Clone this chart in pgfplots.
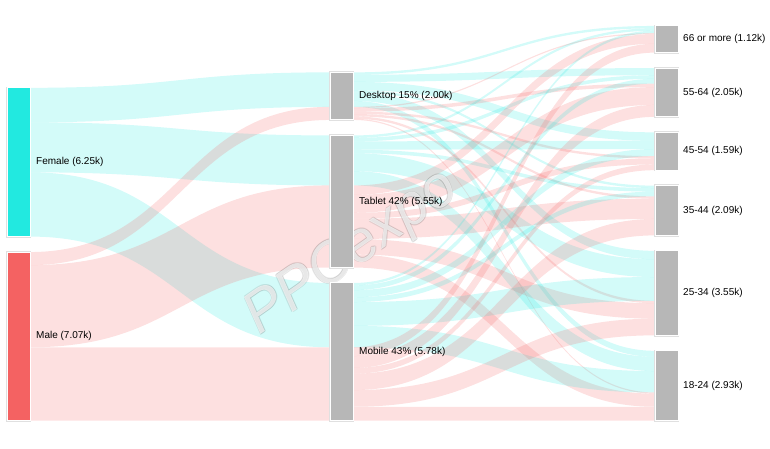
\documentclass[border=0pt]{standalone}
\usepackage{pgfplots}
\pgfplotsset{compat=1.18}
\usepackage{fontspec}
\setmainfont{Liberation Sans}

\definecolor{femc}{HTML}{22E9E0}
\definecolor{malc}{HTML}{F46262}
\definecolor{devc}{HTML}{B7B7B7}

% flows in thousands
% rows: Desktop, Tablet, Mobile; columns: 66+, 55-64, 45-54, 35-44, 25-34, 18-24
\def\femdata{{0.10,0.30,0.35,0.10,0.35,0.25,0.10,0.15,0.35,0.15,0.75,0.60,0.10,0.20,0.30,0.20,1.00,0.90}}
\def\maldata{{0.05,0.15,0.10,0.10,0.10,0.05,0.40,0.75,0.25,0.85,0.65,0.55,0.37,0.50,0.24,0.69,0.70,0.58}}

\def\base{17.67}% bottom of every column
\def\gap{0.65}% gap between nodes

\newcommand\sv[2]{\expandafter\xdef\csname #1\endcsname{#2}}
\newcommand\gv[1]{\csname #1\endcsname}
\newcommand\calc[2]{\edef\calcexpr{#2}\pgfmathsetmacro#1{\calcexpr}}

% totals per gender and device
\foreach \d in {0,1,2}{%
  \gdef\accf{0}\gdef\accm{0}%
  \foreach \a in {0,...,5}{%
    \calc\tmp{\accf+\femdata[6*\d+\a]}\xdef\accf{\tmp}%
    \calc\tmp{\accm+\maldata[6*\d+\a]}\xdef\accm{\tmp}%
  }%
  \sv{GF\d}{\accf}\sv{GM\d}{\accm}%
}
% totals per gender and age
\foreach \a in {0,...,5}{%
  \gdef\accf{0}\gdef\accm{0}%
  \foreach \d in {0,1,2}{%
    \calc\tmp{\accf+\femdata[6*\d+\a]}\xdef\accf{\tmp}%
    \calc\tmp{\accm+\maldata[6*\d+\a]}\xdef\accm{\tmp}%
  }%
  \sv{AF\a}{\accf}\sv{AM\a}{\accm}%
}

% left column
\calc\femh{\gv{GF0}+\gv{GF1}+\gv{GF2}}
\calc\malh{\gv{GM0}+\gv{GM1}+\gv{GM2}}
\calc\femtop{\base-\femh-\malh-\gap}
\calc\fembot{\femtop+\femh}
\calc\femmid{\femtop+\femh/2}
\calc\maltop{\fembot+\gap}
\calc\malbot{\maltop+\malh}
\calc\malmid{\maltop+\malh/2}
\xdef\femtop{\femtop}\xdef\fembot{\fembot}\xdef\femmid{\femmid}
\xdef\maltop{\maltop}\xdef\malbot{\malbot}\xdef\malmid{\malmid}

% middle column
\calc\tmp{\base-\femh-\malh-2*\gap}\sv{DT0}{\tmp}
\foreach \d/\e in {0/1,1/2,2/3}{%
  \calc\tmp{\gv{DT\d}+\gv{GF\d}+\gv{GM\d}}\sv{DB\d}{\tmp}%
  \calc\tmp{\gv{DT\d}+(\gv{GF\d}+\gv{GM\d})/2}\sv{DC\d}{\tmp}%
  \calc\tmp{\gv{DB\d}+\gap}\sv{DT\e}{\tmp}%
}

% right column
\calc\tmp{\base-\femh-\malh-5*\gap}\sv{AT0}{\tmp}
\foreach \a/\b in {0/1,1/2,2/3,3/4,4/5,5/6}{%
  \calc\tmp{\gv{AT\a}+\gv{AF\a}+\gv{AM\a}}\sv{AB\a}{\tmp}%
  \calc\tmp{\gv{AT\a}+(\gv{AF\a}+\gv{AM\a})/2}\sv{AC\a}{\tmp}%
  \calc\tmp{\gv{AB\a}+\gap}\sv{AT\b}{\tmp}%
}

% links
\newcommand\band[8]{%
  \fill[#8,fill opacity=0.2] (axis cs:#1,#4) .. controls (axis cs:#2,#4) and (axis cs:#2,#6) .. (axis cs:#3,#6)
    -- (axis cs:#3,#7) .. controls (axis cs:#2,#7) and (axis cs:#2,#5) .. (axis cs:#1,#5) -- cycle;}
\gdef\bands{}
\newcommand\addband[6]{%
  \calc\bya{#3+#5}\calc\byb{#4+#5}\calc\bxm{(#1+#2)/2}%
  \xdef\bands{\unexpanded\expandafter{\bands}\noexpand\band{#1}{\bxm}{#2}{#3}{\bya}{#4}{\byb}{#6}}%
}

% gender -> device
\xdef\run{\femtop}
\foreach \d in {0,1,2}{%
  \addband{30}{330}{\run}{\gv{DT\d}}{\gv{GF\d}}{femc}%
  \calc\tmp{\run+\gv{GF\d}}\xdef\run{\tmp}%
}
\xdef\run{\maltop}
\foreach \d in {0,1,2}{%
  \calc\tgt{\gv{DT\d}+\gv{GF\d}}%
  \addband{30}{330}{\run}{\tgt}{\gv{GM\d}}{malc}%
  \calc\tmp{\run+\gv{GM\d}}\xdef\run{\tmp}%
}

% device -> age, split by gender
\foreach \a in {0,...,5}{%
  \sv{RF\a}{\gv{AT\a}}%
  \calc\tmp{\gv{AT\a}+\gv{AF\a}}\sv{RM\a}{\tmp}%
}
\foreach \d in {0,1,2}{%
  \xdef\run{\gv{DT\d}}%
  \foreach \a in {0,...,5}{%
    \calc\val{\femdata[6*\d+\a]}%
    \addband{353}{655}{\run}{\gv{RF\a}}{\val}{femc}%
    \calc\tmp{\run+\val}\xdef\run{\tmp}%
    \calc\tmp{\gv{RF\a}+\val}\sv{RF\a}{\tmp}%
  }%
  \foreach \a in {0,...,5}{%
    \calc\val{\maldata[6*\d+\a]}%
    \addband{353}{655}{\run}{\gv{RM\a}}{\val}{malc}%
    \calc\tmp{\run+\val}\xdef\run{\tmp}%
    \calc\tmp{\gv{RM\a}+\val}\sv{RM\a}{\tmp}%
  }%
}

\tikzset{lbl/.style={anchor=west,font=\fontsize{10}{12}\selectfont,text=black,inner sep=0pt},
  wm/.style={rotate=35,inner sep=0pt,font=\fontsize{58}{58}\selectfont\itshape}}

\begin{document}
\begin{tikzpicture}
\begin{axis}[
  width=770pt, height=448pt, scale only axis,
  xmin=0, xmax=770, ymin=0, ymax=18.8235, y dir=reverse,
  hide axis, clip=false,
]
\addplot[draw=none] coordinates {(0,0) (770,18.8235)};

\bands

% watermark, outlined look
\node[wm,text=black,opacity=0.10] at (axis cs:351.2,10.65) {PPCexpo};
\node[wm,text=black,opacity=0.10] at (axis cs:352.8,10.65) {PPCexpo};
\node[wm,text=black,opacity=0.10] at (axis cs:352,10.62) {PPCexpo};
\node[wm,text=black,opacity=0.10] at (axis cs:352,10.68) {PPCexpo};
\node[wm,text=white,opacity=0.75] at (axis cs:352,10.65) {PPCexpo};

% nodes
\addplot[draw=black!12, line width=2.4pt, fill=femc] coordinates {(7,\femtop) (30,\femtop) (30,\fembot) (7,\fembot)} -- cycle;
\addplot[draw=white, line width=1pt, fill=femc] coordinates {(7,\femtop) (30,\femtop) (30,\fembot) (7,\fembot)} -- cycle;
\addplot[draw=black!12, line width=2.4pt, fill=malc] coordinates {(7,\maltop) (30,\maltop) (30,\malbot) (7,\malbot)} -- cycle;
\addplot[draw=white, line width=1pt, fill=malc] coordinates {(7,\maltop) (30,\maltop) (30,\malbot) (7,\malbot)} -- cycle;
\pgfplotsinvokeforeach{0,1,2}{%
  \addplot[draw=black!12, line width=2.4pt, fill=devc] coordinates {(330,\gv{DT#1}) (353,\gv{DT#1}) (353,\gv{DB#1}) (330,\gv{DB#1})} -- cycle;
  \addplot[draw=white, line width=1pt, fill=devc] coordinates {(330,\gv{DT#1}) (353,\gv{DT#1}) (353,\gv{DB#1}) (330,\gv{DB#1})} -- cycle;
}
\pgfplotsinvokeforeach{0,...,5}{%
  \addplot[draw=black!12, line width=2.4pt, fill=devc] coordinates {(655,\gv{AT#1}) (678,\gv{AT#1}) (678,\gv{AB#1}) (655,\gv{AB#1})} -- cycle;
  \addplot[draw=white, line width=1pt, fill=devc] coordinates {(655,\gv{AT#1}) (678,\gv{AT#1}) (678,\gv{AB#1}) (655,\gv{AB#1})} -- cycle;
}

% labels
\node[lbl] at (axis cs:36,\femmid) {Female (6.25k)};
\node[lbl] at (axis cs:36,\malmid) {Male (7.07k)};
\node[lbl] at (axis cs:359,\gv{DC0}) {Desktop 15\% (2.00k)};
\node[lbl] at (axis cs:359,\gv{DC1}) {Tablet 42\% (5.55k)};
\node[lbl] at (axis cs:359,\gv{DC2}) {Mobile 43\% (5.78k)};
\node[lbl] at (axis cs:683,\gv{AC0}) {66 or more (1.12k)};
\node[lbl] at (axis cs:683,\gv{AC1}) {55-64 (2.05k)};
\node[lbl] at (axis cs:683,\gv{AC2}) {45-54 (1.59k)};
\node[lbl] at (axis cs:683,\gv{AC3}) {35-44 (2.09k)};
\node[lbl] at (axis cs:683,\gv{AC4}) {25-34 (3.55k)};
\node[lbl] at (axis cs:683,\gv{AC5}) {18-24 (2.93k)};
\end{axis}
\end{tikzpicture}
\end{document}
